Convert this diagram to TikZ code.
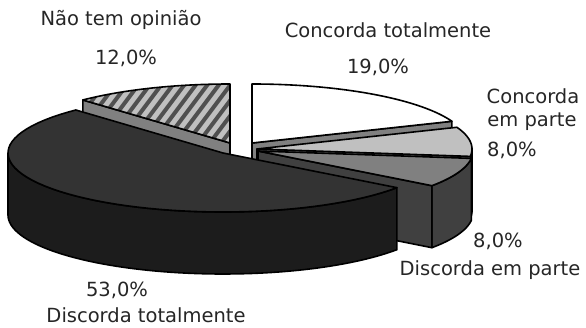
\documentclass[tikz,border=0pt]{standalone}
\usepackage{fontspec}
\setmainfont{DejaVu Sans}
\definecolor{hatchbase}{HTML}{C0C0C0}
\definecolor{hatchline}{HTML}{505050}
\definecolor{sidegray}{HTML}{808080}
\definecolor{lgtop}{HTML}{C0C0C0}
\definecolor{lgside}{HTML}{606060}
\definecolor{mgtop}{HTML}{808080}
\definecolor{mgside}{HTML}{404040}
\definecolor{dktop}{HTML}{333333}
\definecolor{dkside}{HTML}{1C1C1C}
\def\RX{215}\def\RY{59}\def\DP{62}
\newcommand{\topface}[5]{%
  \filldraw[face, fill=#5] (#1,#2) -- plot[domain=#3:#4, samples=60, variable=\t] ({#1+\RX*sin(\t)},{#2-\RY*cos(\t)}) -- cycle;}
\newcommand{\rimside}[5]{%
  \filldraw[face, fill=#5] plot[domain=#3:#4, samples=60, variable=\t] ({#1+\RX*sin(\t)},{#2-\RY*cos(\t)}) -- plot[domain=#4:#3, samples=60, variable=\t] ({#1+\RX*sin(\t)},{#2+\DP-\RY*cos(\t)}) -- cycle;}
\newcommand{\radface}[4]{%
  \filldraw[face, fill=#4] (#1,#2) -- ({#1+\RX*sin(#3)},{#2-\RY*cos(#3)}) -- ({#1+\RX*sin(#3)},{#2+\DP-\RY*cos(#3)}) -- (#1,{#2+\DP}) -- cycle;}
\begin{document}
\begin{tikzpicture}[x=1pt,y=-1pt,
  face/.style={draw=black, line width=1.6pt, line join=round},
  lbl/.style={font=\fontsize{19.5}{23}\selectfont, text=black!85, inner sep=0pt}]
\useasboundingbox (0,0) rectangle (586,328);
\fill[white] (0,0) rectangle (586,328);
% Hatched slice: Nao tem opiniao (316.8 -> 360)
\radface{230}{143}{316.8}{sidegray}
\begin{scope}
  \clip (230,143) -- plot[domain=316.8:360, samples=60, variable=\t] ({230+\RX*sin(\t)},{143-\RY*cos(\t)}) -- cycle;
  \fill[hatchbase] (60,60) rectangle (260,160);
  \foreach \k in {0,...,22} {
    \draw[hatchline, line width=4pt] ({-10+11.5*\k},160) -- ++(75,-100);
  }
\end{scope}
\draw[face] (230,143) -- plot[domain=316.8:360, samples=60, variable=\t] ({230+\RX*sin(\t)},{143-\RY*cos(\t)}) -- cycle;
% White slice: Concorda totalmente (0 -> 68.4)
\radface{252}{143}{68.4}{sidegray}
\topface{252}{143}{0}{68.4}{white}
% Light gray slice: Concorda em parte (68.4 -> 97.2)
\rimside{257}{149}{90}{97.2}{lgside}
\radface{257}{149}{97.2}{lgside}
\topface{257}{149}{68.4}{97.2}{lgtop}
% Gray slice: Discorda em parte (97.2 -> 126)
\rimside{258}{151}{97.2}{126}{mgside}
\radface{258}{151}{126}{mgside}
\topface{258}{151}{97.2}{126}{mgtop}
% Dark slice: Discorda totalmente (126 -> 316.8)
\rimside{223}{153}{126}{270}{dkside}
\topface{223}{153}{126}{316.8}{dktop}
% Labels
\node[lbl] (l1) at (121,20) {Não tem opinião};
\node[lbl] (p1) at (126,58) {12,0\%};
\node[lbl] (l2) at (388,30) {Concorda totalmente};
\node[lbl] (p2) at (378,67) {19,0\%};
\node[lbl] (l3a) at (533,96) {Concorda};
\node[lbl] (l3b) at (532,122) {em parte};
\node[lbl] (p3) at (512,150) {8,0\%};
\node[lbl] (p4) at (498,241) {8,0\%};
\node[lbl] (l4) at (490,270) {Discorda em parte};
\node[lbl] (p5) at (117,290) {53,0\%};
\node[lbl] (l5) at (146,315) {Discorda totalmente};
\end{tikzpicture}
\end{document}
